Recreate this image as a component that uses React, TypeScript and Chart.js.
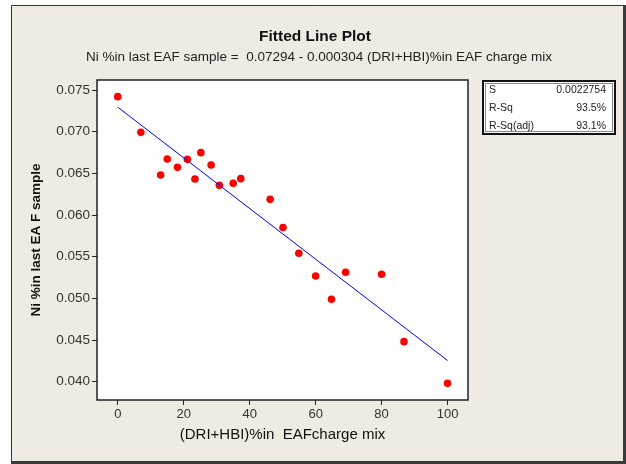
import React, { useEffect, useRef } from "react";
import { Chart, registerables } from "chart.js";

Chart.register(...registerables);

const xValues = [0, 7.0, 13.0, 15.0, 18.1, 21.1, 23.4, 25.2, 28.3, 30.8, 35.0, 37.3, 46.2, 50.1, 54.9, 60.0, 69.1, 64.8, 80.0, 86.8, 100];
const yValues = [0.0742, 0.06992, 0.0648, 0.06672, 0.06572, 0.06668, 0.06432, 0.06748, 0.066, 0.06356, 0.0638, 0.06436, 0.06188, 0.0585, 0.05541, 0.05268, 0.05313, 0.04989, 0.05289, 0.0448, 0.0398];

const fitX = [0, 100];
const fitY = [0.07294, 0.04254];

const xTickValues = [0, 20, 40, 60, 80, 100];
const xTickLabels = ["0", "20", "40", "60", "80", "100"];
const yTickValues = [0.04, 0.045, 0.05, 0.055, 0.06, 0.065, 0.07, 0.075];
const yTickLabels = ["0.040", "0.045", "0.050", "0.055", "0.060", "0.065", "0.070", "0.075"];

const statLabels = ["S", "R-Sq", "R-Sq(adj)"];
const statValues = ["0.0022754", "93.5%", "93.1%"];

const titleText = "Fitted Line Plot";
const subtitleText = "Ni %in last EAF sample =  0.07294 - 0.000304 (DRI+HBI)%in EAF charge mix";
const xTitle = "(DRI+HBI)%in  EAFcharge mix";
const yTitle = "Ni %in last EA F sample";

const FONT = "'Liberation Sans', Arial, sans-serif";
const BEIGE = "#efebe2";

const decor = {
  id: "decor",
  beforeDraw(chart: any) {
    const { ctx, width, height, chartArea: a } = chart;
    ctx.save();
    ctx.fillStyle = "#ffffff";
    ctx.fillRect(0, 0, width, height);
    ctx.fillStyle = BEIGE;
    ctx.fillRect(12, 6, 611, 455);
    ctx.strokeStyle = "#333";
    ctx.lineWidth = 1;
    ctx.beginPath();
    ctx.moveTo(11.5, 461);
    ctx.lineTo(11.5, 5.5);
    ctx.lineTo(623, 5.5);
    ctx.stroke();
    ctx.fillStyle = "#3a3a3a";
    ctx.fillRect(623, 5, 3, 459);
    ctx.fillRect(11, 461, 615, 3);
    ctx.fillStyle = "#ffffff";
    ctx.fillRect(a.left, a.top, a.right - a.left, a.bottom - a.top);
    ctx.restore();
  },
  afterDraw(chart: any) {
    const { ctx, chartArea: a } = chart;
    ctx.save();
    ctx.strokeStyle = "#222";
    ctx.lineWidth = 1.5;
    ctx.strokeRect(a.left, a.top, a.right - a.left, a.bottom - a.top);

    ctx.fillStyle = "#111";
    ctx.textAlign = "center";
    ctx.textBaseline = "middle";
    ctx.font = `bold 15.5px ${FONT}`;
    ctx.fillText(titleText, 315, 37);
    ctx.font = `13.5px ${FONT}`;
    ctx.fillStyle = "#222";
    ctx.fillText(subtitleText, 319, 57);

    // stats box
    const bx = 482, by = 80, bw = 134, bh = 55;
    ctx.fillStyle = "#ffffff";
    ctx.fillRect(bx, by, bw, bh);
    ctx.strokeStyle = "#111";
    ctx.lineWidth = 2;
    ctx.strokeRect(bx + 1, by + 1, bw - 2, bh - 2);
    ctx.strokeStyle = "#888";
    ctx.lineWidth = 1;
    ctx.strokeRect(bx + 3.5, by + 3.5, bw - 7, bh - 7);
    ctx.font = `10.5px ${FONT}`;
    ctx.fillStyle = "#222";
    for (let i = 0; i < statLabels.length; i++) {
      const yy = 90 + i * 18;
      ctx.textAlign = "left";
      ctx.fillText(statLabels[i], 489, yy);
      ctx.textAlign = "right";
      ctx.fillText(statValues[i], 606, yy);
    }
    ctx.restore();
  },
};

export default function App() {
  const ref = useRef<HTMLCanvasElement>(null);
  useEffect(() => {
    if (!ref.current) return;
    const chart = new Chart(ref.current, {
      type: "scatter",
      data: {
        datasets: [
          {
            type: "line",
            label: "Fit",
            data: fitX.map((x, i) => ({ x, y: fitY[i] })),
            borderColor: "#0000ff",
            borderWidth: 1,
            pointRadius: 0,
            fill: false,
          },
          {
            type: "scatter",
            label: "Data",
            data: xValues.map((x, i) => ({ x, y: yValues[i] })),
            backgroundColor: "#ff0000",
            borderColor: "#ff0000",
            pointRadius: 3.8,
            pointStyle: "circle",
            borderWidth: 0,
          },
        ],
      },
      options: {
        responsive: false,
        animation: false,
        layout: { padding: { top: 80, right: 158, left: 0, bottom: 0 } },
        plugins: {
          legend: { display: false },
          title: { display: false },
          tooltip: { enabled: false },
        },
        scales: {
          x: {
            type: "linear",
            min: -6.3,
            max: 106.2,
            afterFit(scale: any) {
              scale.height = 64;
            },
            afterBuildTicks(scale: any) {
              scale.ticks = xTickValues.map((v) => ({ value: v }));
            },
            border: { display: false },
            grid: { display: true, drawOnChartArea: false, drawTicks: true, tickLength: 5, color: "#222" },
            ticks: {
              padding: 2,
              color: "#333",
              font: { family: FONT, size: 13 },
              callback: (v: any) => {
                const i = xTickValues.indexOf(Number(v));
                return i >= 0 ? xTickLabels[i] : "";
              },
            },
            title: {
              display: true,
              text: xTitle,
              color: "#111",
              font: { family: FONT, size: 15 },
              padding: { top: 0, bottom: 20 },
            },
          },
          y: {
            type: "linear",
            min: 0.0378,
            max: 0.0762,
            afterFit(scale: any) {
              scale.width = 97;
            },
            afterBuildTicks(scale: any) {
              scale.ticks = yTickValues.map((v) => ({ value: v }));
            },
            border: { display: false },
            grid: { display: true, drawOnChartArea: false, drawTicks: true, tickLength: 5, color: "#222" },
            ticks: {
              padding: 2,
              color: "#333",
              font: { family: FONT, size: 13.5 },
              callback: (v: any) => {
                const i = yTickValues.findIndex((t) => Math.abs(t - Number(v)) < 1e-9);
                return i >= 0 ? yTickLabels[i] : "";
              },
            },
            title: {
              display: true,
              text: yTitle,
              color: "#111",
              font: { family: FONT, size: 13.5, weight: "bold" },
              padding: { top: 28, bottom: 0 },
            },
          },
        },
      },
      plugins: [decor],
    });
    return () => chart.destroy();
  }, []);
  return (
    <div style={{ position: "fixed", left: 0, top: 0, width: 626, height: 464 }}>
      <canvas ref={ref} width={626} height={464} style={{ width: 626, height: 464, display: "block" }} />
    </div>
  );
}
